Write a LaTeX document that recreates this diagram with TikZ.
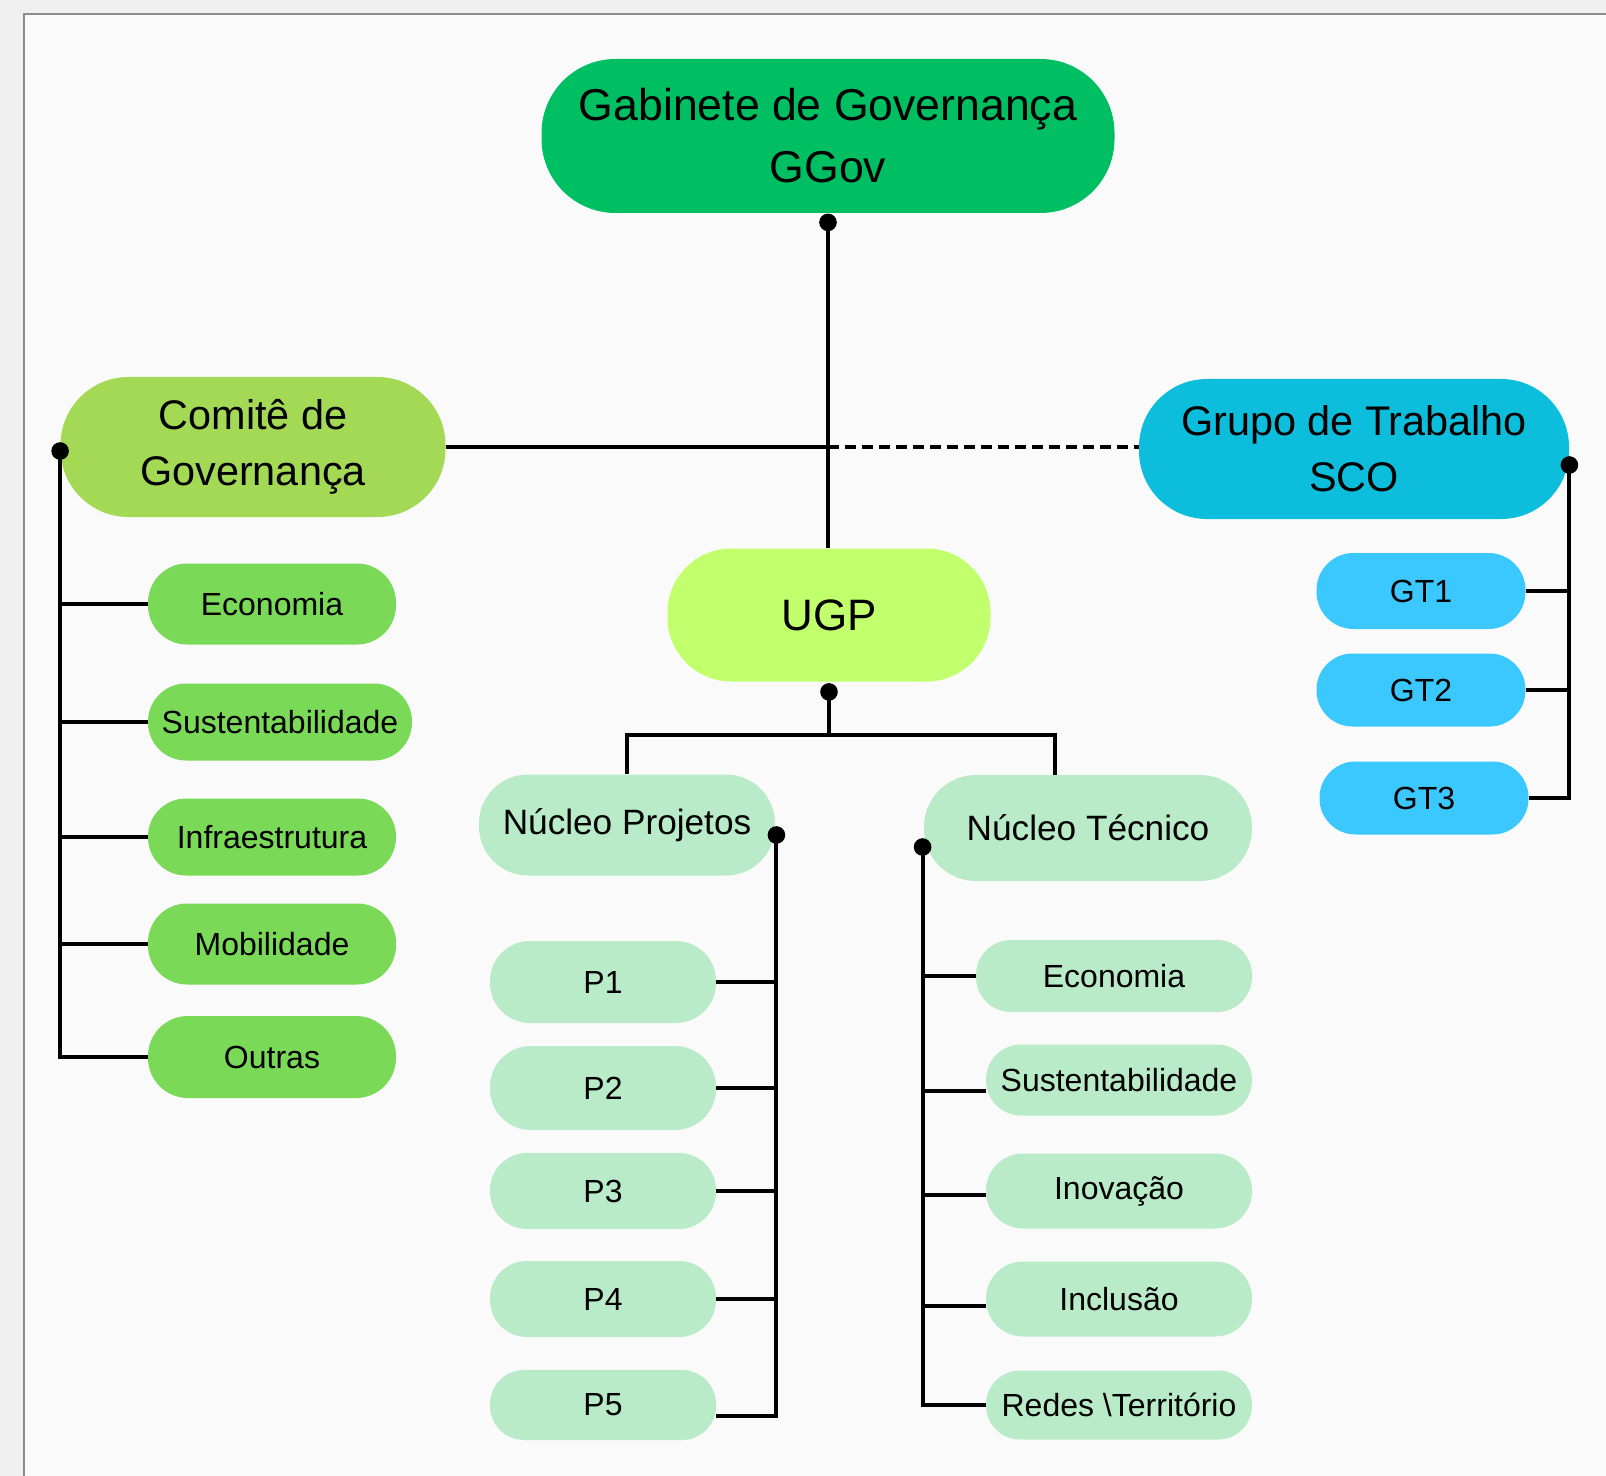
\documentclass[tikz,border=0pt]{standalone}
\usepackage{fontspec}
\setmainfont{Liberation Sans}
\definecolor{outerbg}{HTML}{F0F0F0}
\definecolor{panelbg}{HTML}{FAFAFA}
\definecolor{panelline}{HTML}{8C8C8C}
\definecolor{cGG}{HTML}{00BF63}
\definecolor{cCG}{HTML}{A3D955}
\definecolor{cGT}{HTML}{0CBEDC}
\definecolor{cUGP}{HTML}{C1FF6C}
\definecolor{cNU}{HTML}{B9EBC8}
\definecolor{cCGsub}{HTML}{7AD957}
\definecolor{cGTsub}{HTML}{3AC8FF}
\tikzset{
  box/.style={inner sep=0pt, align=center, text=black},
  sz/.style n args={3}{minimum width=#1pt, minimum height=#2pt, rounded corners=#3pt},
  conn/.style={line width=2pt, black},
  dashconn/.style={line width=2pt, black, dash pattern=on 5.5pt off 3pt},
  bigfont/.style={font=\fontsize{22.3}{31}\selectfont},
  midfont/.style={font=\fontsize{20.7}{28}\selectfont},
  nucfont/.style={font=\fontsize{17.6}{20}\selectfont},
  smallfont/.style={font=\fontsize{16}{19}\selectfont},
  dotmark/.style={fill=black}
}
\begin{document}
\begin{tikzpicture}[x=0.5pt,y=-0.5pt]
\useasboundingbox (0,0) rectangle (1606,1476);
\fill[outerbg] (0,0) rectangle (1606,1476);
\fill[panelbg] (24,14) rectangle (1640,1500);
\draw[panelline, line width=1.2pt] (24,1500) -- (24,14) -- (1640,14);

% main nodes
\node[box, fill=cGG, sz={286.5}{77}{37}, bigfont] (gg) at (828,136) {Gabinete de Governança\\GGov};
\node[box, fill=cCG, sz={192.5}{70}{34}, midfont] (cg) at (253,447) {Comitê de\\Governança};
\node[box, fill=cGT, sz={215}{70}{34}, midfont] (gt) at (1354,449) {Grupo de Trabalho\\SCO};
\node[box, fill=cUGP, sz={161.5}{66.5}{32}, font=\fontsize{22}{26}\selectfont] (ugp) at (829,615) {UGP};
\node[box, fill=cNU, sz={148}{50.5}{24.5}, nucfont] (np) at (627,825) {Núcleo Projetos};
\node[box, fill=cNU, sz={164}{53}{26}, nucfont] (nt) at (1088,828) {Núcleo Técnico};

% Comite children
\node[box, fill=cCGsub, sz={124}{40.5}{19.5}, smallfont] (c1) at (272,604) {Economia};
\node[box, fill=cCGsub, sz={132}{38.5}{19}, smallfont] (c2) at (280,722) {Sustentabilidade};
\node[box, fill=cCGsub, sz={124}{38.5}{19}, smallfont] (c3) at (272,837) {Infraestrutura};
\node[box, fill=cCGsub, sz={124}{40.5}{19.5}, smallfont] (c4) at (272,944) {Mobilidade};
\node[box, fill=cCGsub, sz={124}{41}{20}, smallfont] (c5) at (272,1057) {Outras};

% GT children
\node[box, fill=cGTsub, sz={104.5}{38}{18.5}, smallfont] (g1) at (1421,591) {GT1};
\node[box, fill=cGTsub, sz={104.5}{36.5}{18}, smallfont] (g2) at (1421,690) {GT2};
\node[box, fill=cGTsub, sz={104.5}{36.5}{18}, smallfont] (g3) at (1424,798) {GT3};

% Projects
\node[box, fill=cNU, sz={113}{41}{20}, smallfont] (p1) at (603,982) {P1};
\node[box, fill=cNU, sz={113}{42}{20.5}, smallfont] (p2) at (603,1088) {P2};
\node[box, fill=cNU, sz={113}{38}{18.5}, smallfont] (p3) at (603,1191) {P3};
\node[box, fill=cNU, sz={113}{38}{18.5}, smallfont] (p4) at (603,1299) {P4};
\node[box, fill=cNU, sz={113}{35}{17}, smallfont] (p5) at (603,1405) {P5};

% Tecnico children
\node[box, fill=cNU, sz={138}{36}{17.5}, smallfont] (t1) at (1114,976) {Economia};
\node[box, fill=cNU, sz={133}{35.5}{17.5}, smallfont] (t2) at (1119,1080) {Sustentabilidade};
\node[box, fill=cNU, sz={133}{37.5}{18.5}, smallfont] (t3) at (1119,1191) {Inovação};
\node[box, fill=cNU, sz={133}{37.5}{18.5}, smallfont] (t4) at (1119,1299) {Inclusão};
\node[box, fill=cNU, sz={133}{34.5}{17}, smallfont] (t5) at (1119,1405) {Redes \textbackslash Território};

% GGov -> UGP and horizontal link
\coordinate (ggdot) at ([yshift=-4.5pt]gg.south);
\draw[conn] (ggdot) -- (ggdot |- ugp.north);
\coordinate (mid) at (ggdot |- cg.east);
\draw[conn] (cg.east) -- (mid);
\draw[dashconn] (mid) -- (mid -| gt.west);
\fill[dotmark] (ggdot) circle (4.4pt);

% Comite spine
\coordinate (cdot) at ([yshift=-2pt]cg.west);
\draw[conn] (cdot) |- (c5.west);
\foreach \n in {c1,c2,c3,c4} { \draw[conn] (\n.west) -- (\n.west -| cdot); }
\fill[dotmark] (cdot) circle (4.4pt);

% GT spine
\coordinate (gdot) at ([yshift=-8pt]gt.east);
\draw[conn] (gdot) |- (g3.east);
\foreach \n in {g1,g2} { \draw[conn] (\n.east) -- (\n.east -| gdot); }
\fill[dotmark] (gdot) circle (4.4pt);

% UGP fork
\coordinate (udot) at ([yshift=-5pt]ugp.south);
\coordinate (ujn) at ([yshift=-21.5pt]udot);
\coordinate (ntin) at ([xshift=-16.5pt]nt.north);
\draw[conn] (udot) -- (ujn);
\draw[conn] (np.north) |- (ujn) -| (ntin);
\fill[dotmark] (udot) circle (4.4pt);

% Nucleo Projetos spine
\coordinate (npdot) at ([xshift=0.5pt,yshift=-5pt]np.east);
\coordinate (p5in) at ([yshift=-5.5pt]p5.east);
\draw[conn] (npdot) |- (p5in);
\foreach \n in {p1,p2,p3,p4} { \draw[conn] (\n.east) -- (\n.east -| npdot); }
\fill[dotmark] (npdot) circle (4.4pt);

% Nucleo Tecnico spine
\coordinate (ntdot) at ([xshift=-0.5pt,yshift=-9.5pt]nt.west);
\draw[conn] (ntdot) |- (t5.west);
\draw[conn] (t1.west) -- (t1.west -| ntdot);
\coordinate (t2in) at ([yshift=-5.5pt]t2.west);
\coordinate (t3in) at ([yshift=-2pt]t3.west);
\coordinate (t4in) at ([yshift=-3.5pt]t4.west);
\draw[conn] (t2in) -- (t2in -| ntdot);
\draw[conn] (t3in) -- (t3in -| ntdot);
\draw[conn] (t4in) -- (t4in -| ntdot);
\fill[dotmark] (ntdot) circle (4.4pt);
\end{tikzpicture}
\end{document}
